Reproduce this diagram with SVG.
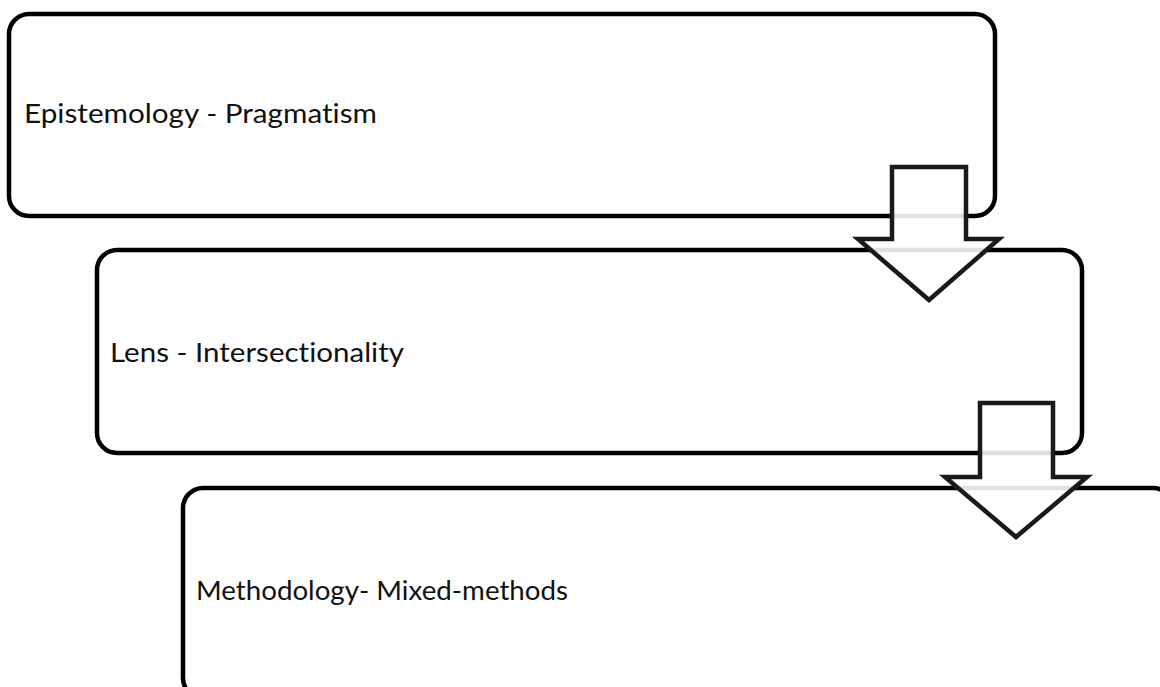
<svg xmlns="http://www.w3.org/2000/svg" width="1160" height="687" viewBox="0 0 1160 687">
  <style>
    .box { fill: #ffffff; stroke: #000000; stroke-width: 4.5; }
    .label { font-family: "Lato", "Open Sans", "Liberation Sans", sans-serif; font-size: 27.5px; fill: #111111; font-variant-ligatures: none; font-feature-settings: "liga" 0; }
    .flow { fill: #ffffff; fill-opacity: 0.88; stroke: #1a1a1a; stroke-width: 4.5; stroke-linejoin: miter; }
  </style>
  <rect width="1160" height="687" fill="#ffffff"/>

  <g id="node-epistemology">
    <rect class="box" x="9" y="14" width="986" height="202" rx="20" ry="20"/>
    <text class="label" x="24" y="123" textLength="353" lengthAdjust="spacingAndGlyphs">Epistemology - Pragmatism</text>
  </g>

  <g id="node-lens">
    <rect class="box" x="97" y="250" width="985" height="203" rx="20" ry="20"/>
    <text class="label" x="110" y="362" textLength="294" lengthAdjust="spacingAndGlyphs">Lens - Intersectionality</text>
  </g>

  <g id="node-methodology">
    <rect class="box" x="183" y="488" width="990" height="210" rx="20" ry="20"/>
    <text class="label" x="196" y="600" textLength="372" lengthAdjust="spacingAndGlyphs">Methodology- Mixed-methods</text>
  </g>

  <g id="connectors">
    <polygon class="flow" points="892,167 966,167 966,239 999,239 929,300 858,239 892,239"/>
    <polygon class="flow" points="980,403 1053,403 1053,477 1087,477 1016,537 945,477 980,477"/>
  </g>
</svg>
